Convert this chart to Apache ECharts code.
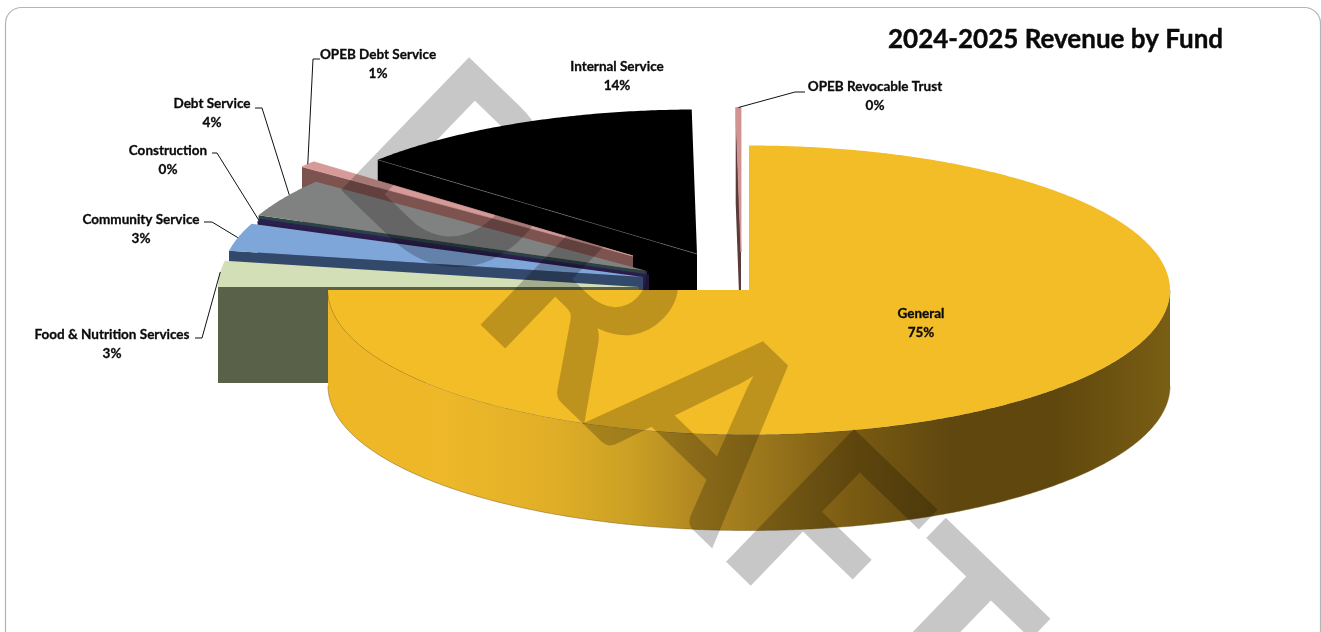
<!DOCTYPE html>
<html>
<head>
<meta charset="utf-8">
<title>2024-2025 Revenue by Fund</title>
<style>html,body{margin:0;padding:0;background:#fff}#chart{width:1321px;height:632px}</style>
<script src="https://cdn.jsdelivr.net/npm/echarts@6/dist/echarts.min.js"></script>
</head>
<body>
<div id="chart"></div>
<script>
// Fund names and their share of revenue, clockwise from twelve o'clock.
const funds = ['General', 'Food & Nutrition Services', 'Community Service', 'Construction',
  'Debt Service', 'OPEB Debt Service', 'Internal Service', 'OPEB Revocable Trust'];
const shares = [75, 2.9, 3.1, 0.3, 4.3, 0.7, 13.5, 0.2];

// Colours of each fund's top face and of its flat cut face.
const topColors = ['#F3BD27', '#D3DFB6', '#7FA6D9', '#2B1F52', '#808281', '#D69B98', '#000000', '#D19391'];
const cutColors = ['#8A6A16', '#596249', '#33496B', '#2A1C47', '#2B4346', '#7D5350', '#000000', '#5B3A3A'];

// Pie geometry: centre of the unexploded pie, radii of the tilted disc, wall height.
const pie = { cx: 749, cy: 290, rx: 421, ry: 144.5, depth: 96 };
// How far each fund is pulled out of the pie, in pixels.
const pull = [[0, 0], [-110, -3], [-106, -13], [-100, -15], [-102, -19], [-116, -34], [-52, -36], [-8, -38]];

// Labels: centre of the text, then the elbow of the leader and where along the rim it lands.
const labelSpots = [[921, 323], [112, 344], [141, 229], [168, 160], [212, 113], [378, 64], [617, 76], [875, 96]];
const leaders = [null,
  { from: [[195, 338], [202, 338]], at: 0.57 },
  { from: [[204, 222], [212, 222]], at: 0.48 },
  { from: [[212, 153], [217, 153]], at: 0.5 },
  { from: [[255, 108], [262, 108]], at: 0.59 },
  { from: [[320, 59], [313, 59]], at: 0.5 },
  null,
  { from: [[805, 92], [795, 92]], at: 0.5 }];

const total = shares.reduce((a, b) => a + b, 0);
const startAngles = shares.map((_, i) => shares.slice(0, i).reduce((a, b) => a + b, 0) / total * 360);
const endAngles = shares.map((v, i) => startAngles[i] + v / total * 360);

// Point on a fund's rim; angles run clockwise from twelve o'clock.
function rim(i, deg, drop) {
  const t = deg * Math.PI / 180;
  return [pie.cx + pull[i][0] + pie.rx * Math.sin(t),
          pie.cy + pull[i][1] - pie.ry * Math.cos(t) + (drop || 0)];
}
function arc(i, from, to, drop) {
  const steps = Math.max(2, Math.ceil(Math.abs(to - from) * 2));
  const pts = [];
  for (let k = 0; k <= steps; k++) pts.push(rim(i, from + (to - from) * k / steps, drop));
  return pts;
}
const wallFill = new echarts.graphic.LinearGradient(0, 0, 1, 0, [
  { offset: 0, color: '#EDB726' }, { offset: 0.14, color: '#EDB829' }, { offset: 0.27, color: '#E0AE27' },
  { offset: 0.36, color: '#CBA024' }, { offset: 0.44, color: '#B08720' }, { offset: 0.54, color: '#93701A' },
  { offset: 0.62, color: '#7A5B12' }, { offset: 0.74, color: '#5F470F' }, { offset: 0.86, color: '#5F470D' },
  { offset: 1, color: '#7A5E14' }]);

function renderFund(params, api) {
  const i = api.value(0);
  const a0 = startAngles[i], a1 = endAngles[i];
  const apex = [pie.cx + pull[i][0], pie.cy + pull[i][1]];
  const low = [apex[0], apex[1] + pie.depth];
  const children = [];
  // Cut face on the leading edge: it faces the viewer for funds in the back-left quadrant.
  if (a0 >= 270) {
    const c = rim(i, a0);
    children.push({ type: 'polygon', shape: { points: [apex, c, [c[0], c[1] + pie.depth], low] },
      style: { fill: cutColors[i] }, silent: true });
  }
  // Outer wall for the part of the rim on the near side of the disc.
  const w0 = Math.max(a0, 90), w1 = Math.min(a1, 270);
  if (w1 > w0) {
    children.push({ type: 'polygon', shape: { points: arc(i, w0, w1).concat(arc(i, w1, w0, pie.depth)) },
      style: { fill: wallFill }, silent: true });
    children.push({ type: 'polyline', shape: { points: arc(i, w0, w1, pie.depth) },
      style: { fill: null, stroke: 'rgba(110,85,25,0.45)', lineWidth: 1 }, silent: true });
    children.push({ type: 'polyline', shape: { points: arc(i, w0, w1) },
      style: { fill: null, stroke: 'rgba(95,72,20,0.45)', lineWidth: 1 }, silent: true });
  }
  // Top face; thin wedges get a hairline of their own colour so they stay visible.
  children.push({ type: 'polygon', shape: { points: [apex].concat(arc(i, a0, a1)) },
    style: { fill: topColors[i], stroke: shares[i] < 1 ? topColors[i] : null, lineWidth: 0.8 }, silent: true });
  if (a0 >= 270 && topColors[i] === '#000000') {
    children.push({ type: 'line', shape: { x1: apex[0], y1: apex[1], x2: rim(i, a0)[0], y2: rim(i, a0)[1] },
      style: { stroke: 'rgba(150,150,150,0.55)', lineWidth: 0.8 }, silent: true });
  }
  // Leader line running from the label to the rim.
  if (leaders[i]) {
    const end = rim(i, a0 + (a1 - a0) * leaders[i].at);
    children.push({ type: 'polyline', shape: { points: leaders[i].from.concat([end]) },
      style: { fill: null, stroke: '#111', lineWidth: 1 }, silent: true, z2: 5 });
  }
  // Two-line label: fund name and rounded percentage.
  children.push({ type: 'text', x: labelSpots[i][0], y: labelSpots[i][1], silent: true, z2: 6,
    style: { text: funds[i] + '\n' + Math.round(shares[i] / total * 100) + '%',
      font: 'bold 13.5px Lato', fill: '#0a0a0a', stroke: '#0a0a0a', lineWidth: 0.3,
      align: 'center', verticalAlign: 'middle', lineHeight: 19 } });
  return { type: 'group', children };
}

// Paint from the back of the scene to the front; the General wedge goes last.
const paintOrder = [7, 6, 5, 4, 3, 2, 1, 0];

const chart = echarts.init(document.getElementById('chart'), null, { renderer: 'canvas' });
chart.setOption({
  animation: false,
  backgroundColor: '#fff',
  title: { text: '2024-2025 Revenue by Fund', left: 883, top: 22,
    textStyle: { fontFamily: 'Lato', fontWeight: 'bold', fontSize: 26, color: '#0a0a0a',
      textBorderColor: '#0a0a0a', textBorderWidth: 0.4 } },
  series: [{ type: 'custom', coordinateSystem: 'none', renderItem: renderFund, silent: true,
    data: paintOrder.map(i => [i, shares[i]]) }],
  graphic: [
    { type: 'rect', z: 0, silent: true, shape: { x: 5.5, y: 7.5, width: 1315, height: 640, r: 16 },
      style: { fill: '#fff', stroke: '#b4b4b4', lineWidth: 1.2 } },
    { type: 'text', z: 100, silent: true, x: 472, y: 25, rotation: -44 * Math.PI / 180,
      style: { text: 'DRAFT', font: 'bold 255px Lato', fill: 'rgba(0,0,0,0.22)', align: 'left', verticalAlign: 'top' } }
  ]
});
</script>
</body>
</html>
